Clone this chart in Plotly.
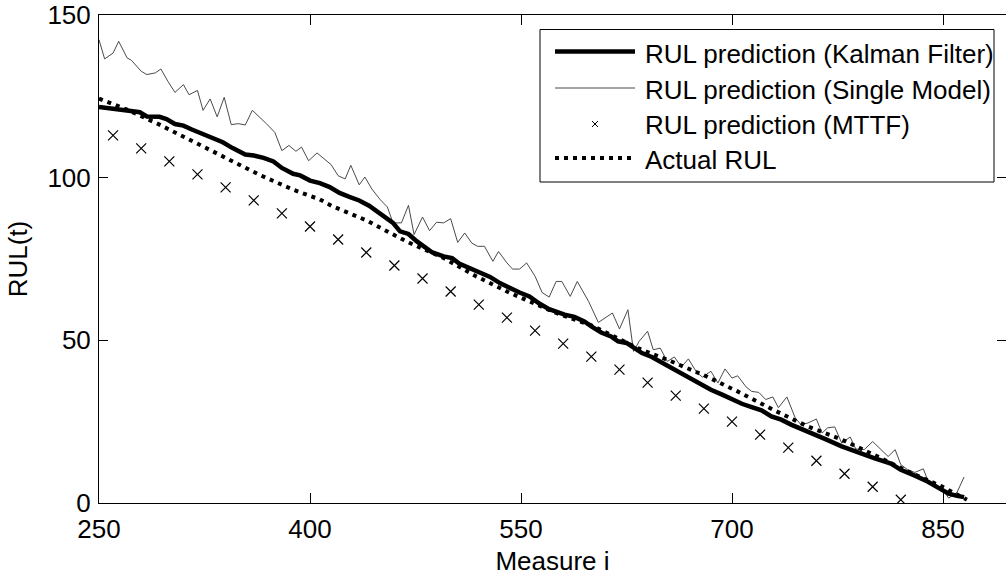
import plotly.graph_objects as go

# ---------------- data ----------------
kalman_x = [250, 258, 265, 270, 274, 279, 284, 293, 298, 304, 310, 316, 322, 329, 338, 345, 354, 360,
            367, 374, 380, 388, 393, 400, 407, 414, 421, 428, 435, 442, 450, 455, 459, 464, 470, 476,
            482, 487, 495, 501, 506, 514, 521, 528, 535, 542, 549, 556, 563, 570, 577, 581, 588, 595,
            600, 607, 614, 619, 625, 630, 636, 643, 650, 657, 664, 671, 678, 685, 693, 700, 707, 714,
            721, 728, 735, 742, 754, 766, 778, 790, 801, 813, 820, 830, 839, 849, 854, 860, 865]
kalman_y = [121.7, 121.3, 121.0, 120.9, 120.4, 120.1, 118.8, 118.7, 118.0, 116.5, 116.0, 114.8, 113.7,
            112.2, 110.9, 109.1, 107.1, 106.8, 106.1, 105.0, 103.0, 101.2, 100.7, 99.1, 98.3, 97.1,
            95.3, 94.1, 93.0, 91.4, 89.1, 87.6, 86.1, 83.5, 82.7, 80.4, 78.4, 77.0, 75.8, 75.3, 73.6,
            72.2, 70.7, 69.5, 67.6, 66.1, 64.7, 63.5, 61.3, 59.6, 58.4, 57.9, 57.2, 55.8, 54.3, 52.4,
            51.2, 49.7, 49.2, 47.6, 46.1, 44.9, 43.2, 41.5, 39.7, 38.1, 36.4, 34.8, 33.3, 31.8, 30.5,
            29.5, 28.5, 26.6, 25.6, 24.1, 22.0, 19.7, 17.4, 15.4, 13.8, 12.1, 10.2, 8.4, 6.6, 4.1,
            2.9, 2.2, 1.8]

single_x = [250, 254, 260, 264, 270, 273, 280, 284, 290, 294, 299, 304, 310, 314, 320, 324, 329, 334,
            339, 344, 349, 354, 359, 364, 369, 375, 380, 385, 390, 394, 399, 405, 410, 415, 420, 425,
            429, 435, 439, 444, 450, 455, 459, 465, 470, 474, 480, 485, 490, 495, 500, 505, 510, 515,
            519, 524, 530, 534, 540, 544, 549, 554, 560, 565, 570, 575, 579, 585, 590, 598, 605, 611,
            615, 620, 626, 630, 634, 640, 644, 649, 654, 659, 664, 669, 675, 679, 685, 690, 695, 700,
            704, 710, 714, 719, 724, 729, 733, 739, 745, 749, 754, 760, 764, 768, 773, 778, 784, 788,
            794, 800, 805, 811, 816, 820, 825, 830, 836, 840, 845, 850, 854, 860, 865]
single_y = [142.4, 136.5, 138.3, 141.9, 136.8, 136.1, 132.7, 131.7, 132.2, 133.4, 129.6, 126.2, 128.6,
            125.5, 126.8, 120.7, 124.2, 118.7, 124.7, 116.3, 116.6, 116.2, 120.7, 118.7, 116.6, 113.9,
            108.3, 109.9, 108.1, 109.4, 105.2, 107.6, 105.7, 104.0, 100.6, 99.6, 103.8, 97.8, 100.2,
            96.5, 93.2, 91.0, 86.1, 86.1, 91.5, 82.5, 87.9, 83.7, 86.3, 86.1, 87.4, 80.1, 83.0, 79.9,
            78.9, 78.9, 74.3, 77.3, 73.8, 71.9, 71.9, 73.8, 69.7, 64.7, 63.3, 68.1, 68.1, 63.5, 68.1,
            62.0, 55.5, 57.4, 58.4, 53.5, 59.4, 46.6, 49.7, 52.8, 47.1, 47.6, 43.5, 44.9, 41.8, 44.3,
            40.1, 38.7, 40.5, 36.9, 41.2, 38.4, 39.1, 35.7, 34.3, 34.0, 31.8, 32.6, 29.3, 32.6, 26.1,
            24.1, 24.6, 25.8, 21.5, 23.1, 23.4, 18.4, 20.3, 16.6, 16.4, 18.9, 16.9, 14.3, 16.4, 11.8,
            10.2, 9.4, 10.5, 6.1, 5.6, 4.1, 1.5, 3.3, 8.0]

mttf_x = [260, 280, 300, 320, 340, 360, 380, 400, 420, 440, 460, 480, 500, 520, 540, 560, 580, 600,
          620, 640, 660, 680, 700, 720, 740, 760, 780, 800, 820]
mttf_y = [113, 109, 105, 101, 97, 93, 89, 85, 81, 77, 73, 69, 65, 61, 57, 53, 49, 45, 41, 37, 33, 29,
          25, 21, 17, 13, 9, 5, 1]

actual_x = [250, 270, 293, 317, 341, 364, 388, 407, 416, 440, 457, 471, 495, 518, 542, 575, 600, 620,
            633, 657, 681, 704, 730, 754, 778, 801, 825, 849, 867]
actual_y = [124.3, 120.9, 116.3, 111.2, 106.1, 100.9, 96.3, 93.3, 91.2, 86.9, 83.0, 79.9, 75.3, 69.7,
            64.6, 58.4, 54.6, 50.4, 47.6, 43.5, 39.1, 34.3, 28.5, 23.5, 19.5, 14.8, 9.7, 5.1, 1.0]

x_ticks = [250, 400, 550, 700, 850]
y_ticks = [0, 50, 100, 150]
legend_labels = ["RUL prediction (Kalman Filter)", "RUL prediction (Single Model)",
                 "RUL prediction (MTTF)", "Actual RUL"]

# ---------------- figure ----------------
W, H = 1006, 576
ML, MR, MT, MB = 99, 0, 15, 73
PW, PH = W - ML - MR, H - MT - MB
FONT = "Liberation Sans, Arial, Helvetica, sans-serif"
FS = 26

fig = go.Figure()
fig.add_trace(go.Scatter(x=single_x, y=single_y, mode="lines", name=legend_labels[1],
                         line=dict(color="#4a4a4a", width=1), showlegend=False))
fig.add_trace(go.Scatter(x=actual_x, y=actual_y, mode="lines", name=legend_labels[3],
                         line=dict(color="black", width=4, dash="4px,5px"), showlegend=False))
fig.add_trace(go.Scatter(x=kalman_x, y=kalman_y, mode="lines", name=legend_labels[0],
                         line=dict(color="black", width=4.5), showlegend=False))
fig.add_trace(go.Scatter(x=mttf_x, y=mttf_y, mode="markers", name=legend_labels[2],
                         marker=dict(symbol="x-thin", size=10, line=dict(color="black", width=1.2)),
                         showlegend=False))


def px2x(px):
    return (px - ML) / PW


def py2y(py):
    return (H - MB - py) / PH


shapes = []
# legend box
shapes.append(dict(type="rect", xref="paper", yref="paper",
                   x0=px2x(540), x1=px2x(994), y0=py2y(182), y1=py2y(29.5),
                   line=dict(color="black", width=1), fillcolor="white", layer="above"))
rows = [52.5, 89, 124, 159]
styles = [dict(color="black", width=4.5), dict(color="#4a4a4a", width=1), None,
          dict(color="black", width=4, dash="4px,5px")]
for r, st in zip(rows, styles):
    if st is None:
        c = (555 + 635) / 2
        for dy in (-3, 3):
            shapes.append(dict(type="line", xref="paper", yref="paper",
                               x0=px2x(c - 3), x1=px2x(c + 3), y0=py2y(r - dy), y1=py2y(r + dy),
                               line=dict(color="black", width=1), layer="above"))
    else:
        shapes.append(dict(type="line", xref="paper", yref="paper",
                           x0=px2x(555), x1=px2x(635), y0=py2y(r - 1), y1=py2y(r - 1),
                           line=st, layer="above"))

annotations = []
for r, lab in zip(rows, legend_labels):
    annotations.append(dict(text=lab, xref="paper", yref="paper", x=px2x(643), y=py2y(r + 1),
                            xanchor="left", yanchor="middle", showarrow=False,
                            font=dict(family=FONT, size=FS, color="black")))

fig.update_layout(
    width=W, height=H,
    margin=dict(l=ML, r=MR, t=MT, b=MB, autoexpand=False),
    paper_bgcolor="white", plot_bgcolor="white",
    font=dict(family=FONT, size=FS, color="black"),
    shapes=shapes, annotations=annotations,
    showlegend=False,
)
fig.update_xaxes(range=[250, 250 + PW * 150 / 211], tickvals=x_ticks, ticks="inside", ticklen=10,
                 tickwidth=1, tickcolor="black", showline=True, linecolor="black", linewidth=1,
                 mirror="ticks", showgrid=False, zeroline=False, ticklabelstandoff=3,
                 title=dict(text="Measure i", font=dict(size=FS), standoff=17))
fig.update_yaxes(range=[0, 150], tickvals=y_ticks, ticks="inside", ticklen=9,
                 tickwidth=1, tickcolor="black", showline=True, linecolor="black", linewidth=1,
                 mirror="ticks", showgrid=False, zeroline=False, ticklabelstandoff=2,
                 title=dict(text="RUL(t)", font=dict(size=FS), standoff=12))

fig.write_html("out.html")
